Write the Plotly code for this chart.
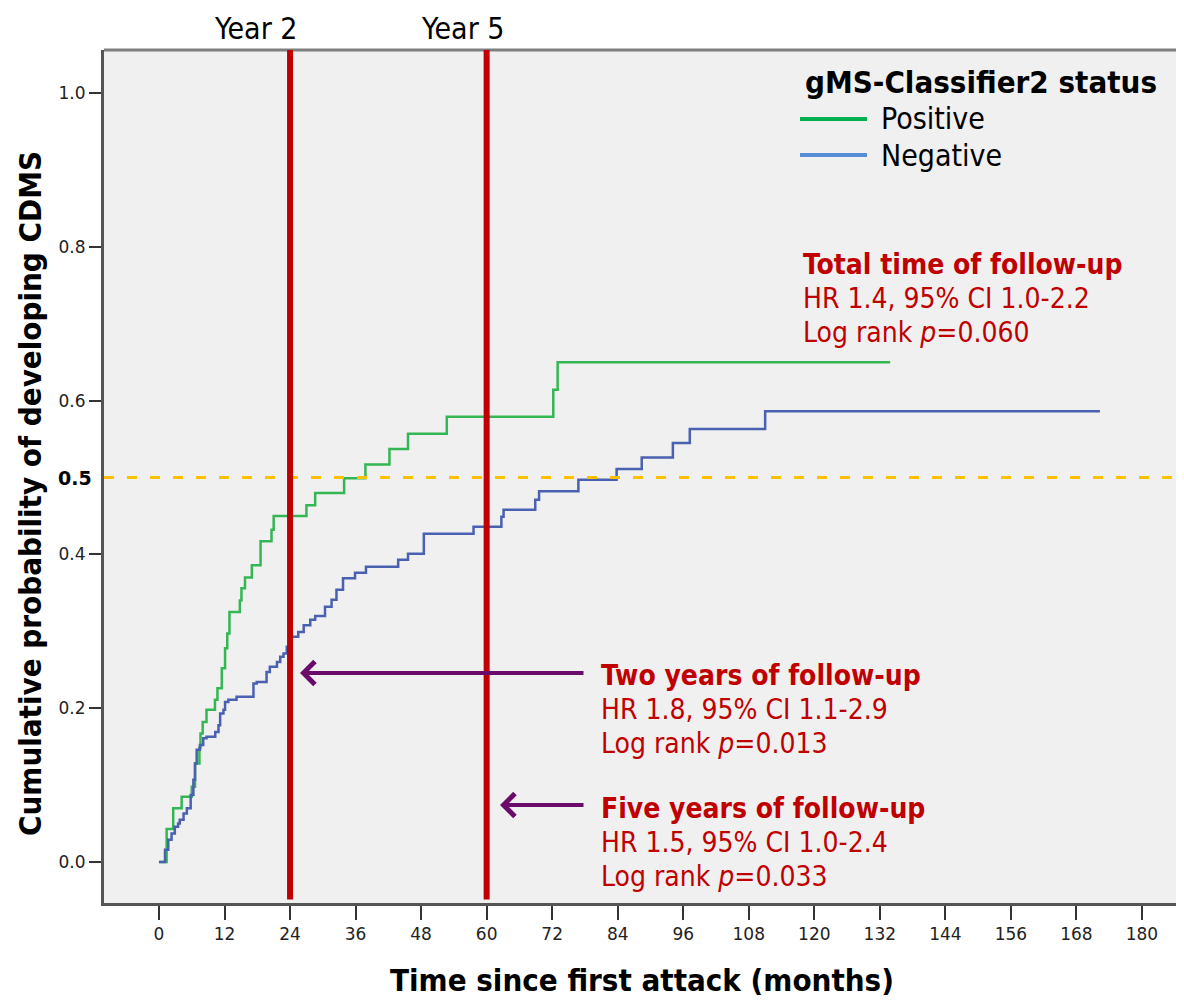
import plotly.graph_objects as go

# ---------------- data ----------------
pos_months = [0, 1.4, 2.6, 4.15, 6.0, 6.6, 7.4, 7.6, 8.0, 8.7, 10.25, 10.7, 11.5, 12.1, 12.5, 12.9,
              14.8, 15.1, 15.75, 17.0, 18.6, 20.6, 21.0, 27.0, 28.6, 33.9, 37.8, 42.2, 45.6, 52.7,
              72.2, 73.0, 133.9]
pos_prob = [0, 0.043, 0.070, 0.085, 0.098, 0.128, 0.149, 0.167, 0.182, 0.198, 0.211, 0.226, 0.252,
            0.278, 0.297, 0.325, 0.340, 0.356, 0.370, 0.386, 0.417, 0.432, 0.450, 0.464, 0.480,
            0.499, 0.517, 0.537, 0.557, 0.579, 0.614, 0.650, 0.650]

neg_months = [0, 1.1, 1.7, 2.3, 2.9, 3.5, 3.8, 4.5, 5.1, 5.8, 6.3, 6.6, 6.9, 7.5, 8.1, 8.7, 10.3,
              10.9, 11.2, 11.8, 12.1, 12.7, 14.2, 17.3, 17.9, 19.7, 20.3, 21.6, 22.2, 22.8, 23.4,
              24.0, 25.5, 26.5, 27.7, 28.6, 30.4, 31.6, 32.5, 33.7, 35.9, 37.9, 43.8, 45.6, 48.5,
              57.6, 62.7, 63.1, 68.9, 69.6, 76.8, 83.8, 88.4, 94.1, 97.2, 111.0, 172.3]
neg_prob = [0, 0.016, 0.029, 0.037, 0.046, 0.050, 0.055, 0.063, 0.070, 0.087, 0.107, 0.128, 0.146,
            0.152, 0.161, 0.163, 0.169, 0.178, 0.193, 0.198, 0.208, 0.211, 0.215, 0.232, 0.234,
            0.247, 0.254, 0.260, 0.267, 0.271, 0.280, 0.293, 0.299, 0.308, 0.315, 0.320, 0.332,
            0.341, 0.354, 0.369, 0.376, 0.384, 0.393, 0.401, 0.427, 0.436, 0.449, 0.458, 0.471,
            0.482, 0.497, 0.511, 0.526, 0.545, 0.563, 0.586, 0.586]

x_ticks = list(range(0, 181, 12))
y_ticks = [0.0, 0.2, 0.4, 0.6, 0.8, 1.0]
y_tick_text = ["0.0", "0.2", "0.4", "0.6", "0.8", "1.0"]
year_marks = [24, 60]
year_labels = ["Year 2", "Year 5"]
median_level = 0.5

series_names = ["Positive", "Negative"]
curve_colors = ["#35b654", "#4a60b0"]
legend_colors = ["#00b050", "#558ed5"]

RED = "#c00000"
PURPLE = "#6a0a6a"
FONT = "Tahoma, 'DejaVu Sans Condensed', 'DejaVu Sans', sans-serif"

# page body has an 8px margin; screen-pixel targets are converted below
OFF = 8
W, H = 1184 - OFF, 1000 - OFF
PLOT_L, PLOT_T, PLOT_R, PLOT_B = 104, 50, 1184, 903   # plot area in screen pixels
L, T = PLOT_L - OFF, PLOT_T - OFF
R = OFF + W - PLOT_R
B = OFF + H - PLOT_B
PW, PH = PLOT_R - PLOT_L, PLOT_B - PLOT_T


def px(x):
    return (x - PLOT_L) / PW


def py(y):
    return (PLOT_B - y) / PH


fig = go.Figure()
fig.add_trace(go.Scatter(x=pos_months, y=pos_prob, mode="lines", line=dict(shape="hv", color=curve_colors[0], width=2.5),
                         name=series_names[0], showlegend=False, hoverinfo="x+y+name"))
fig.add_trace(go.Scatter(x=neg_months, y=neg_prob, mode="lines", line=dict(shape="hv", color=curve_colors[1], width=2.5),
                         name=series_names[1], showlegend=False, hoverinfo="x+y+name"))

shapes = []
# top border
shapes.append(dict(type="line", xref="paper", yref="paper", x0=0, x1=1, y0=1, y1=1,
                   line=dict(color="#7f7f7f", width=3)))
# median dashed line
shapes.append(dict(type="line", xref="paper", yref="y", x0=0, x1=1, y0=median_level, y1=median_level,
                   line=dict(color="#ffc000", width=3, dash="10px,13px")))
# year lines
for m in year_marks:
    shapes.append(dict(type="line", xref="x", yref="paper", x0=m, x1=m, y0=0.004, y1=1,
                       line=dict(color=RED, width=6)))
# legend lines
for i, c in enumerate(legend_colors):
    yy = py(119 + 36 * i)
    shapes.append(dict(type="line", xref="paper", yref="paper", x0=px(800), x1=px(867), y0=yy, y1=yy,
                       line=dict(color=c, width=4)))

annotations = []
# Year labels
for cx, lab in zip([255, 462], year_labels):
    annotations.append(dict(text=lab, xref="paper", yref="paper", x=px(cx), y=py(28.5), xanchor="center",
                            yanchor="middle", borderpad=0, showarrow=False,
                            font=dict(family=FONT, size=30, color="black")))
# bold 0.5 label
annotations.append(dict(text="<b>0.5</b>", xref="paper", yref="y", x=0, y=median_level, xanchor="right",
                        yanchor="middle", xshift=-10, showarrow=False,
                        font=dict(family="'DejaVu Sans', sans-serif", size=19, color="black")))
# axis titles
annotations.append(dict(text="<b>Cumulative probability of developing CDMS</b>", xref="paper", yref="paper",
                        x=px(30), y=py(494), xanchor="center", yanchor="middle", textangle=-90,
                        showarrow=False, font=dict(family=FONT, size=31, color="black")))
annotations.append(dict(text="<b>Time since first attack (months)</b>", xref="paper", yref="paper",
                        x=px(642), y=py(980), xanchor="center", yanchor="middle", borderpad=0,
                        showarrow=False, font=dict(family=FONT, size=31, color="black")))
# legend
annotations.append(dict(text="<b>gMS-Classifier2 status</b>", xref="paper", yref="paper", x=px(803), y=py(82),
                        xanchor="left", yanchor="middle", showarrow=False,
                        font=dict(family=FONT, size=31, color="black")))
for i, n in enumerate(series_names):
    annotations.append(dict(text=n, xref="paper", yref="paper", x=px(879), y=py(119 + 36 * i),
                            xanchor="left", yanchor="middle", showarrow=False,
                            font=dict(family=FONT, size=30, color="black")))

# stats text blocks
blocks = [
    (801, 264, ["<b>Total time of follow-up</b>", "HR 1.4, 95% CI 1.0-2.2", "Log rank <i>p</i>=0.060"]),
    (599, 675, ["<b>Two years of follow-up</b>", "HR 1.8, 95% CI 1.1-2.9", "Log rank <i>p</i>=0.013"]),
    (599, 808, ["<b>Five years of follow-up</b>", "HR 1.5, 95% CI 1.0-2.4", "Log rank <i>p</i>=0.033"]),
]
for bx, by, lines in blocks:
    for j, t in enumerate(lines):
        annotations.append(dict(text=t, xref="paper", yref="paper", x=px(bx), y=py(by + 34 * j),
                                xanchor="left", yanchor="middle", showarrow=False,
                                font=dict(family=FONT, size=28, color=RED)))

# arrows
for tip_x, y_px in [(300, 673), (500, 805)]:
    annotations.append(dict(text="", xref="paper", yref="paper", x=px(tip_x), y=py(y_px),
                            axref="pixel", ayref="pixel", ax=585 - tip_x, ay=0,
                            showarrow=True, arrowhead=4, arrowsize=1.1, arrowwidth=4, arrowcolor=PURPLE))

fig.update_layout(
    width=W, height=H,
    margin=dict(l=L, r=R, t=T, b=B, pad=0),
    paper_bgcolor="white",
    plot_bgcolor="#f0f0f0",
    shapes=shapes,
    annotations=annotations,
    showlegend=False,
    xaxis=dict(range=[-10.07, 187.7], tickvals=x_ticks, ticks="outside", ticklen=14, tickwidth=2,
               tickcolor="#333333", showline=True, linecolor="#555555", linewidth=3, showgrid=False,
               zeroline=False, tickfont=dict(family="'DejaVu Sans', sans-serif", size=17, color="#222222")),
    yaxis=dict(range=[-0.0533, 1.0559], tickvals=y_ticks, ticktext=y_tick_text, ticks="outside", ticklen=12,
               tickwidth=2, tickcolor="#333333", showline=True, linecolor="#555555", linewidth=3,
               showgrid=False, zeroline=False,
               tickfont=dict(family="'DejaVu Sans', sans-serif", size=17, color="#222222")),
)

fig.write_html("out.html")
